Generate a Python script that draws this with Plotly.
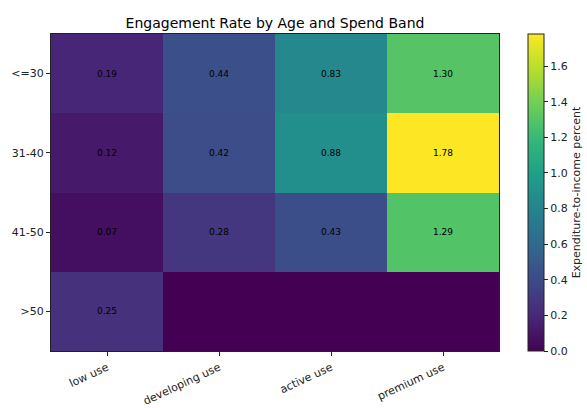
import plotly.graph_objects as go

spend_bands = ["low use", "developing use", "active use", "premium use"]
age_bands = ["<=30", "31-40", "41-50", ">50"]
values = [
    [0.19, 0.44, 0.83, 1.30],
    [0.12, 0.42, 0.88, 1.78],
    [0.07, 0.28, 0.43, 1.29],
    [0.25, 0.0, 0.0, 0.0],
]
shown = [
    [True, True, True, True],
    [True, True, True, True],
    [True, True, True, True],
    [True, False, False, False],
]
labels = [[f"{v:.2f}" if s else "" for v, s in zip(row, srow)] for row, srow in zip(values, shown)]

font = "DejaVu Sans"
fig = go.Figure(go.Heatmap(
    z=values, x=spend_bands, y=age_bands,
    text=labels, texttemplate="%{text}",
    textfont=dict(family=font, size=9, color="black"),
    colorscale="Viridis", zmin=0, zmax=1.78,
    xgap=0, ygap=0,
    colorbar=dict(
        x=1.065, xanchor="left", y=0.5, yanchor="middle",
        len=1.0, lenmode="fraction", thickness=16, xpad=0, ypad=0,
        outlinewidth=1, outlinecolor="#222",
        tickvals=[0, 0.2, 0.4, 0.6, 0.8, 1.0, 1.2, 1.4, 1.6],
        ticktext=["0.0", "0.2", "0.4", "0.6", "0.8", "1.0", "1.2", "1.4", "1.6"],
        ticks="outside", ticklen=4, tickcolor="#222",
        tickfont=dict(family=font, size=11, color="#222"),
        title=dict(text="Expenditure-to-income percent", side="right",
                   font=dict(family=font, size=11, color="#222")),
    ),
))

fig.update_layout(
    width=587, height=408,
    margin=dict(l=51, r=88, t=34, b=57, autoexpand=False),
    paper_bgcolor="white", plot_bgcolor="white",
    title=dict(text="Engagement Rate by Age and Spend Band", x=0.5, xref="paper", xanchor="center",
               y=1, yref="paper", yanchor="bottom", pad=dict(b=6),
               font=dict(family=font, size=14, color="black")),
    font=dict(family=font, size=11, color="#222"),
)
fig.update_xaxes(showline=True, linecolor="#222", mirror=True, linewidth=1,
                 ticks="outside", ticklen=4, tickcolor="#222", tickangle=-25,
                 ticklabelstandoff=1,
                 tickfont=dict(family=font, size=11, color="#222"), showgrid=False)
fig.update_yaxes(showline=True, linecolor="#222", mirror=True, linewidth=1,
                 ticks="outside", ticklen=4, tickcolor="#222", autorange="reversed",
                 tickfont=dict(family=font, size=11, color="#222"), showgrid=False)

fig.write_html("out.html")
